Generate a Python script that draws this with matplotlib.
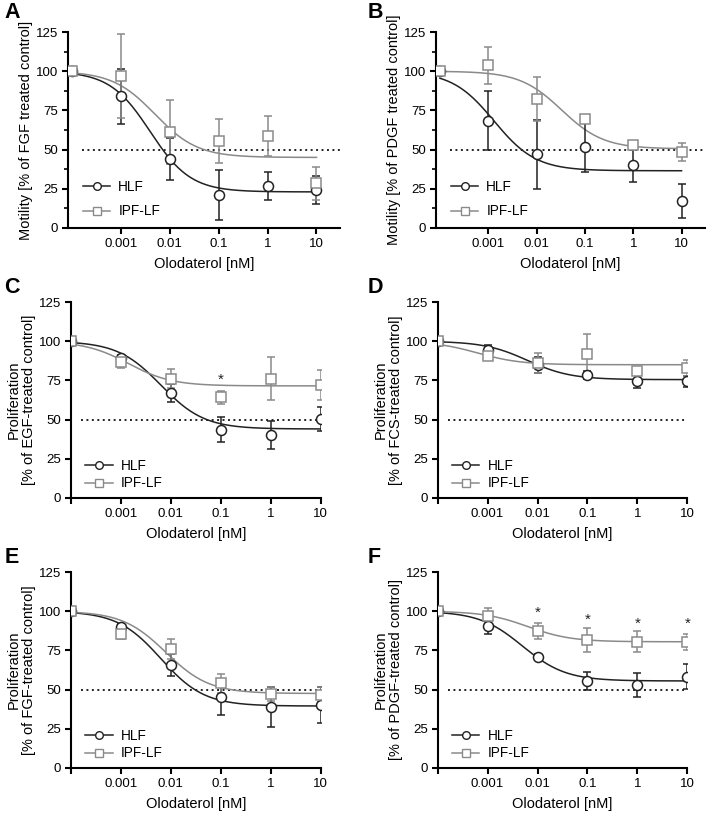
import matplotlib
matplotlib.use("Agg")
import matplotlib.pyplot as plt
import numpy as np

plt.rcParams["font.family"] = ["Liberation Sans", "DejaVu Sans"]

# concentrations (nM); control plotted at 1e-4
conc = [1e-4, 1e-3, 1e-2, 1e-1, 1, 10]
tick_labels = ["0.001", "0.01", "0.1", "1", "10"]

# --- panel values (mean, SEM) ---
A_hlf_mean = [100, 84, 44, 21, 27, 24]
A_hlf_sem = [0, 17.5, 13.5, 16, 9, 9]
A_ipf_mean = [100, 97, 61, 55.5, 58.7, 28.4]
A_ipf_sem = [0, 27, 20.5, 14, 13, 10.5]

B_hlf_mean = [100, 68.5, 47, 51.5, 40.2, 17.3]
B_hlf_sem = [0, 19, 22, 15.6, 11, 11]
B_ipf_mean = [100, 103.7, 82.3, 69.3, 52.9, 48.3]
B_ipf_sem = [0, 12, 14, 2, 2, 5.7]

C_hlf_mean = [100, 89.3, 67, 43.4, 40.2, 50.6]
C_hlf_sem = [0, 2, 5.5, 8, 8.7, 7.7]
C_ipf_mean = [100, 86.7, 76.1, 64.2, 76.1, 71.9]
C_ipf_sem = [0, 4, 6, 4, 13.8, 9.5]

D_hlf_mean = [100, 94.6, 85, 78.2, 74.4, 74.4]
D_hlf_sem = [0, 3, 5, 2.5, 4, 3.5]
D_ipf_mean = [100, 90.8, 86.1, 91.8, 80.8, 82.9]
D_ipf_sem = [0, 2, 6.5, 12.5, 2.5, 5]

E_hlf_mean = [100, 89.9, 65.9, 45.1, 38.7, 40]
E_hlf_sem = [0, 2, 7, 11.5, 12.8, 11.5]
E_ipf_mean = [100, 85.7, 75.9, 54, 47.2, 46.8]
E_ipf_sem = [0, 3.5, 6.5, 6, 4.5, 5]

F_hlf_mean = [100, 90.5, 71, 55.5, 52.9, 58.3]
F_hlf_sem = [0, 5, 1.5, 5.7, 7.5, 8.2]
F_ipf_mean = [100, 97, 87.4, 81.9, 80.6, 80.2]
F_ipf_sem = [0, 5.3, 5.3, 7.7, 6.5, 5]

# sigmoidal fit parameters (bottom, top, logEC50, hill) estimated from the curves
A_hlf_fit = (23, 100, -2.4, 1.05)
A_ipf_fit = (45, 100, -2.3, 1)
B_hlf_fit = (36.5, 100, -2.88, 1)
B_ipf_fit = (50.5, 100, -1.48, 1)
C_hlf_fit = (44, 100, -2.2, 1)
C_ipf_fit = (71.5, 100, -2.85, 1)
D_hlf_fit = (75.5, 100, -2.2, 1)
D_ipf_fit = (85, 100, -3.2, 1)
E_hlf_fit = (39.5, 100, -2.2, 1)
E_ipf_fit = (47.5, 100, -2.1, 1)
F_hlf_fit = (55.5, 100, -2.3, 1)
F_ipf_fit = (80.5, 100, -2.2, 1)

# significance markers: (concentration, y)
C_stars = [(0.1, 75.5)]
F_stars = [(0.01, 99), (0.1, 94.8), (1, 92), (10, 92)]

ylabels = {
    "A": "Motility [% of FGF treated control]",
    "B": "Motility [% of PDGF treated control]",
    "C": "Proliferation\n[% of EGF-treated control]",
    "D": "Proliferation\n[% of FCS-treated control]",
    "E": "Proliferation\n[% of FGF-treated control]",
    "F": "Proliferation\n[% of PDGF-treated control]",
}

BLACK = "#222222"
GREY = "#8a8a8a"


def logistic(xlog, bottom, top, logec50, hill):
    return bottom + (top - bottom) / (1 + 10 ** ((xlog - logec50) * hill))


def draw_panel(ax, letter, hlf, ipf, fits, stars, extended):
    xs = np.linspace(-4, 1, 300)
    for (mean, sem), fit, col, mk in zip([hlf, ipf], fits, [BLACK, GREY], ["o", "s"]):
        ax.plot(10 ** xs, logistic(xs, *fit), color=col, lw=1.1, zorder=2)
        ax.errorbar(conc, mean, yerr=sem, fmt="none", ecolor=col, elinewidth=1.1,
                    capsize=2.6, capthick=1.1, zorder=3)
        ax.plot(conc, mean, linestyle="none", marker=mk, ms=7.2, mfc="white",
                mec=col, mew=1.1, zorder=4)
    # legend proxies
    ax.plot([], [], color=BLACK, lw=1.1, marker="o", ms=5.5, mfc="white", mec=BLACK, label="HLF")
    ax.plot([], [], color=GREY, lw=1.1, marker="s", ms=5.5, mfc="white", mec=GREY, label="IPF-LF")

    for x, y in stars:
        ax.text(x, y, "*", ha="center", va="center", fontsize=11, color=BLACK)

    ax.set_xscale("log")
    if extended:
        xmin, xmax = 10 ** -4.08, 10 ** 1.48
        ax.set_xticks(conc[1:])
        ax.set_xticklabels(tick_labels)
        ax.set_yticks(np.arange(12.5, 125, 25), minor=True)
    else:
        xmin, xmax = 1e-4, 10
        ax.set_xticks(conc)
        ax.set_xticklabels([""] + tick_labels)
    ax.xaxis.set_minor_locator(matplotlib.ticker.NullLocator())
    ax.set_xlim(xmin, xmax)
    ax.set_ylim(0, 125)
    ax.set_yticks([0, 25, 50, 75, 100, 125])
    ax.hlines(50, 10 ** -3.8, xmax, colors=BLACK, linestyles=(0, (1, 1.8)), lw=1.4, zorder=1)

    for s in ["top", "right"]:
        ax.spines[s].set_visible(False)
    for s in ["left", "bottom"]:
        ax.spines[s].set_linewidth(1.5)
    ax.tick_params(which="major", length=4, width=1.5, labelsize=9.5, pad=3)
    ax.tick_params(which="minor", length=3, width=1.2)
    ax.set_xlabel("Olodaterol [nM]", fontsize=10.5, labelpad=5)
    ax.set_ylabel(ylabels[letter], fontsize=10.5, labelpad=2, linespacing=1.1)

    if extended:
        ax.legend(loc="lower left", bbox_to_anchor=(0.02, 0.0), frameon=False,
                  fontsize=9.8, handlelength=2.0, handletextpad=0.6,
                  labelspacing=0.8, borderpad=0.2)
    else:
        ax.legend(loc="lower left", bbox_to_anchor=(0.02, -0.01), frameon=False,
                  fontsize=9.8, handlelength=2.0, handletextpad=0.6,
                  labelspacing=0.25, borderpad=0.2)


fig = plt.figure(figsize=(7.09, 8.13), dpi=100)

panels = [
    ("A", [0.0959, 0.7196, 0.3836, 0.2410], (A_hlf_mean, A_hlf_sem), (A_ipf_mean, A_ipf_sem), (A_hlf_fit, A_ipf_fit), [], True),
    ("B", [0.6150, 0.7196, 0.3790, 0.2410], (B_hlf_mean, B_hlf_sem), (B_ipf_mean, B_ipf_sem), (B_hlf_fit, B_ipf_fit), [], True),
    ("C", [0.1001, 0.3875, 0.3522, 0.2410], (C_hlf_mean, C_hlf_sem), (C_ipf_mean, C_ipf_sem), (C_hlf_fit, C_ipf_fit), C_stars, False),
    ("D", [0.6173, 0.3875, 0.3521, 0.2410], (D_hlf_mean, D_hlf_sem), (D_ipf_mean, D_ipf_sem), (D_hlf_fit, D_ipf_fit), [], False),
    ("E", [0.1001, 0.0554, 0.3522, 0.2410], (E_hlf_mean, E_hlf_sem), (E_ipf_mean, E_ipf_sem), (E_hlf_fit, E_ipf_fit), [], False),
    ("F", [0.6173, 0.0554, 0.3521, 0.2410], (F_hlf_mean, F_hlf_sem), (F_ipf_mean, F_ipf_sem), (F_hlf_fit, F_ipf_fit), F_stars, False),
]

letter_pos = {"A": (0.006, 0.997), "B": (0.519, 0.997), "C": (0.006, 0.659),
              "D": (0.519, 0.659), "E": (0.006, 0.327), "F": (0.519, 0.327)}

for letter, rect, hlf, ipf, fits, stars, extended in panels:
    ax = fig.add_axes(rect)
    draw_panel(ax, letter, hlf, ipf, fits, stars, extended)
    lx, ly = letter_pos[letter]
    fig.text(lx, ly, letter, fontsize=15.5, fontweight="bold", ha="left", va="top")

fig.savefig("out.png", dpi=100)
